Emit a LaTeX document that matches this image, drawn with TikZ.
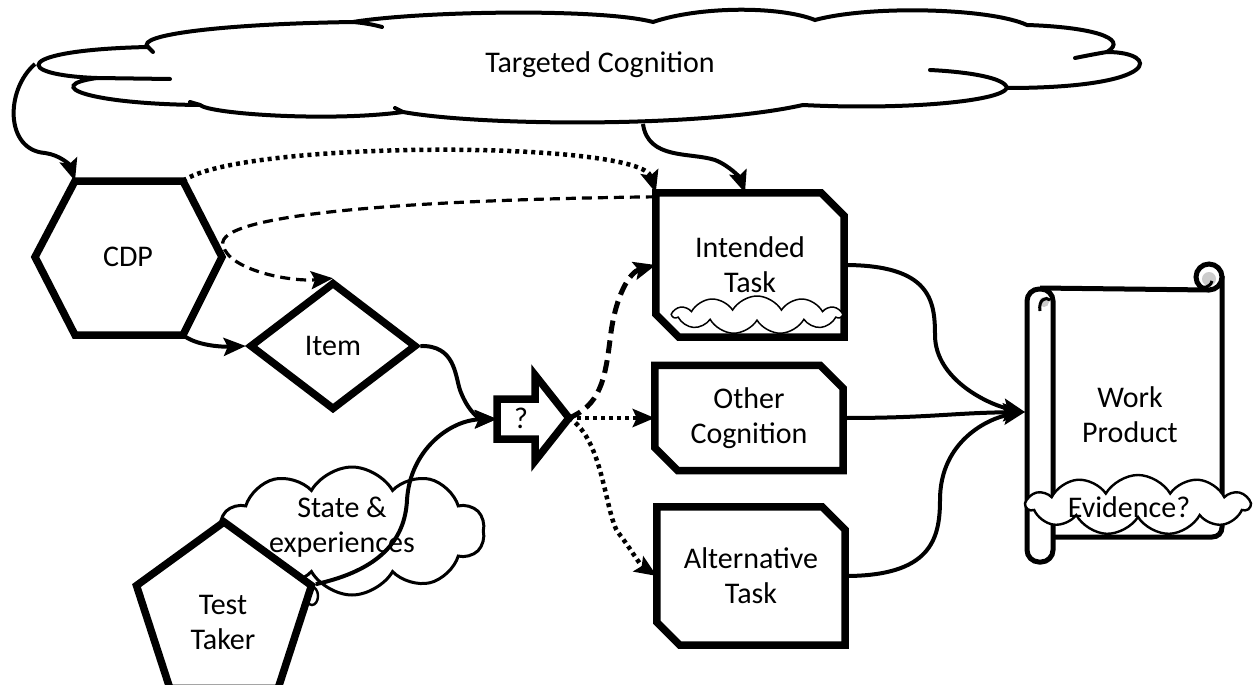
\documentclass[tikz,border=0pt]{standalone}
\usepackage{fontspec}
\setmainfont{Carlito}
\usetikzlibrary{shapes.geometric,shapes.symbols,arrows.meta,calc}
\begin{document}
\begin{tikzpicture}[x=1pt,y=-1pt,
  every node/.style={font=\fontsize{30}{35}\selectfont, align=center, inner sep=0pt},
  sline/.style={line width=7.5pt, line join=miter},
  cl/.style={line width=4pt, line cap=round},
  wl/.style={line width=5pt},
  tip/.style={-{Stealth[length=22pt,width=18pt,inset=4pt]}},
  conn/.style={line width=4pt, tip},
  dotl/.style={line width=4.5pt, dash pattern=on 4pt off 4pt, tip},
  dashl/.style={line width=3.2pt, dash pattern=on 10pt off 6pt, tip},
  bdashl/.style={line width=5pt, dash pattern=on 13pt off 7pt, tip},
  taskbox/.style={rectangle, draw=none, minimum width=188pt},
  puff/.style={cloud, draw, fill=white, cloud puff arc=120},
]
\useasboundingbox (0,0) rectangle (1253,685);

% ---------- Targeted Cognition cloud ----------
\draw[cl, fill=white] (148,47) .. controls (135,35) and (220,24) .. (353,22)
 .. controls (420,11) and (600,8) .. (653,22)
 .. controls (700,6) and (780,6) .. (815,20)
 .. controls (870,5) and (990,8) .. (1027,25)
 .. controls (1090,27) and (1130,38) .. (1107,52)
 .. controls (1160,52) and (1164,88) .. (1007,88)
 .. controls (1000,102) and (900,110) .. (803,105)
 .. controls (700,128) and (480,126) .. (403,112)
 .. controls (330,122) and (210,114) .. (200,105)
 .. controls (90,104) and (40,86) .. (97,78)
 .. controls (12,75) and (12,50) .. (148,47) -- cycle;
\draw[cl] (353,22) .. controls (365,23) and (375,25) .. (382,27);
\draw[cl] (1107,52) .. controls (1095,54) and (1085,56) .. (1075,58);
\draw[cl] (1007,88) .. controls (1005,78) and (970,72) .. (930,70);
\draw[cl] (403,112) -- (395,108);
\draw[cl] (200,105) -- (190,102);
\draw[cl] (97,78) -- (170,79);
\draw[cl] (148,47) -- (153,52);
\coordinate (tcL) at (35,64);
\coordinate (tcB) at (643,124);
\node (tc) at (600,65) {Targeted Cognition};

% ---------- CDP hexagon ----------
\coordinate (cdpTL) at (75,181);
\coordinate (cdpTR) at (183,181);
\coordinate (cdpR) at (222,257);
\coordinate (cdpBR) at (183,335);
\coordinate (cdpBL) at (75,335);
\coordinate (cdpL) at (35,257);
\draw[sline, fill=white] (cdpTL) -- (cdpTR) -- (cdpR) -- (cdpBR) -- (cdpBL) -- (cdpL) -- cycle;
\node (cdp) at (128,257) {CDP};

% ---------- Item ----------
\node[diamond, draw, sline, fill=white, minimum width=167pt, minimum height=128pt] (item) at (333,346) {Item};

% ---------- ? arrow ----------
\coordinate (qW) at (497,419);
\coordinate (qE) at (569,418);
\draw[sline, fill=white] (497,399) -- (535,399) -- (535,375) -- (qE) -- (535,461) -- (535,439) -- (497,439) -- cycle;
\node (q) at (521,418) {?};

% ---------- task boxes ----------
\newcommand\chamferbox[1]{%
  \draw[sline, fill=white] ([xshift=-23pt]#1.north east) -- (#1.north west) -- ([yshift=23pt]#1.south west)
    -- ([xshift=23pt]#1.south west) -- (#1.south east) -- ([yshift=-23pt]#1.north east) -- cycle;}
\node[taskbox, minimum height=144pt] (it) at (750,265) {};
\node[taskbox, minimum height=105pt] (oc) at (749,418) {};
\node[taskbox, minimum height=138pt] (at) at (751,576) {};
\chamferbox{it}\chamferbox{oc}\chamferbox{at}
\node at (it) {Intended\\Task};
\node at (oc) {Other\\Cognition};
\node at (at) {Alternative\\Task};
\node[puff, line width=1.5pt, cloud puffs=11, minimum width=168pt, minimum height=38pt] (ic) at (757,315) {};

% ---------- State & experiences / Test Taker ----------
\node[puff, line width=3pt, cloud puffs=10, minimum width=265pt, minimum height=128pt] (sc) at (352,531) {};
\node (st) at (342,527) {State \&\\experiences};
\draw[line width=2.4pt] (312,596) ellipse [x radius=6pt, y radius=9pt];
\node[regular polygon, regular polygon sides=5, draw, sline, fill=white, minimum size=184pt] (tt) at (224,614) {};
\node (ttx) at (223,622) {Test\\Taker};

% ---------- Work Product scroll ----------
\fill[white] (1040,288) rectangle (1222,537);
\draw[wl] (1040,288) -- (1209,290);
\draw[wl] (1222,276) -- (1222,527) .. controls (1222,533) and (1218,537) .. (1212,537) -- (1053,537);
\draw[wl, fill=white] (1209,277) circle[radius=13pt];
\fill[gray!40] (1209,279) circle[radius=7pt];
\draw[line width=3pt] (1199,287) .. controls (1203,288) and (1210,288) .. (1212,281);
\draw[wl, fill=white, rounded corners=12pt] (1027,289) rectangle (1053,562);
\fill[gray!40] (1044,302) circle[radius=5pt];
\draw[line width=3pt] (1040,311) .. controls (1038,300) and (1046,296) .. (1050,300);
\coordinate (wpIn) at (1025,412);
\node (wp) at (1130,415) {Work\\Product};
\node[puff, line width=2.4pt, cloud puffs=11, minimum width=223pt, minimum height=60pt] (evc) at (1138,505) {};
\node (ev) at (1129,507) {Evidence?};

% ---------- connectors ----------
\draw[conn] (tcL) .. controls (5,90) and (5,150) .. (45,153) .. controls (60,155) and (70,165) .. (cdpTL);
\draw[conn] (tcB) .. controls (648,160) and (690,152) .. (715,160) .. controls (730,166) and (740,178) .. ([xshift=-5pt]it.north);
\draw[dotl] (cdpTR) .. controls (240,140) and (640,140) .. (it.north west);
\draw[dashl] ([yshift=-4pt]it.north west) .. controls (400,200) and (215,215) .. (223,245) .. controls (228,270) and (290,282) .. (item.north);
\draw[conn] (cdpBR) .. controls (195,345) and (220,347) .. (item.west);
\draw[conn] (item.east) .. controls (455,345) and (455,375) .. (460,390) .. controls (468,412) and (480,419) .. (qW);
\draw[conn] (tt.corner 5) .. controls (380,570) and (405,540) .. (407,500) .. controls (410,450) and (450,420) .. (qW);
\draw[bdashl] (qE) .. controls (600,405) and (605,380) .. (610,340) .. controls (615,295) and (630,272) .. (it.west);
\draw[dotl] (qE) -- (oc.west);
\draw[dotl] (qE) .. controls (605,440) and (605,520) .. (620,535) .. controls (630,548) and (640,565) .. (at.west);
\draw[conn] (it.east) .. controls (930,265) and (935,300) .. (935,335) .. controls (935,380) and (990,405) .. (wpIn);
\draw[conn] (oc.east) .. controls (930,418) and (950,413) .. (wpIn);
\draw[conn] (at.east) .. controls (930,576) and (940,540) .. (940,500) .. controls (940,440) and (990,418) .. (wpIn);
\end{tikzpicture}
\end{document}
